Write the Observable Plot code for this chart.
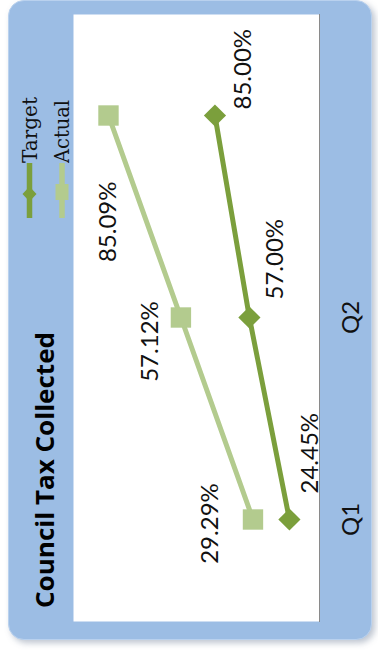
<!DOCTYPE html>
<html>
<head>
<meta charset="utf-8">
<script src="https://cdn.jsdelivr.net/npm/d3@7"></script>
<script src="https://cdn.jsdelivr.net/npm/@observablehq/plot@0.6"></script>
<style>
  html, body { margin: 0; padding: 0; background: #fff; width: 378px; height: 662px; overflow: hidden; }
  /* the card is laid out landscape and turned a quarter to stand upright */
  #card { position: absolute; left: 0; top: 0; width: 662px; height: 378px;
          transform-origin: 0 0; transform: translate(0, 662px) rotate(-90deg); }
  #panel { position: absolute; left: 22px; top: 8px; width: 640px; height: 364px;
           background: #9cbde4; border-radius: 16px; box-sizing: border-box;
           border: 1px solid #b9d1ee; box-shadow: -3px 3px 6px rgba(70, 90, 120, 0.35); }
  .layer { position: absolute; left: 0; top: 0; }
</style>
</head>
<body>
<div id="card"><div id="panel"></div></div>
<script>
// Council tax collection by quarter (percent of annual amount)
const categories = ["Q1", "Q2", ""];
const target = [24.45, 57.00, 85.00];
const actual = [29.29, 57.12, 85.09];
const seriesNames = ["Target", "Actual"];
const title = "Council Tax Collected";

const targetColor = "#7b9f3c";
const actualColor = "#b3cb8e";
const W = 662, H = 378;
const frame = { width: W, height: H, marginLeft: 40, marginRight: 15, marginTop: 73, marginBottom: 59 };
const labelFont = { fontFamily: "Lato, 'Open Sans', sans-serif", fontSize: 24, fill: "#111" };
const pct = d => d.v.toFixed(2) + "%";

const targetRows = categories.map((q, i) => ({ q, v: target[i] }));
const actualRows = categories.map((q, i) => ({ q, v: actual[i] }));

// hand-placed label nudges, one per quarter
const targetNudge = [{ dx: 26, dy: 21 }, { dx: 18, dy: 26 }, { dx: 6, dy: 28 }];
const actualNudge = [
  { dx: -4, dy: -43, anchor: "middle" },
  { dx: -24, dy: -31, anchor: "middle" },
  { dx: -66, dy: 0, anchor: "end" }
];

const xScale = { type: "point", domain: categories, padding: 0.5 };

// Primary axis: plot area, category axis and the Target series
const base = Plot.plot({
  ...frame,
  style: { background: "transparent", overflow: "visible" },
  x: { ...xScale, axis: null },
  y: { domain: [0, 200], axis: null },
  marks: [
    Plot.frame({ fill: "white", stroke: null }),
    Plot.frame({ anchor: "bottom", stroke: "#8a8a8a", strokeWidth: 1 }),
    Plot.axisX({ tickSize: 0, tickPadding: 22, fontSize: 24, label: null,
                 fontFamily: labelFont.fontFamily, fill: "#111", tickFormat: d => d }),
    Plot.line(targetRows, { x: "q", y: "v", stroke: targetColor, strokeWidth: 5, strokeLinejoin: "round" }),
    Plot.dot(targetRows, { x: "q", y: "v", symbol: "diamond2", r: 10, fill: targetColor, stroke: null }),
    ...targetRows.map((row, i) => Plot.text([row], {
      x: "q", y: "v", text: pct, textAnchor: "start",
      dx: targetNudge[i].dx, dy: targetNudge[i].dy, ...labelFont
    }))
  ]
});

// Secondary axis: the Actual series
const overlay = Plot.plot({
  ...frame,
  style: { background: "transparent", overflow: "visible" },
  x: { ...xScale, axis: null },
  y: { domain: [3.6, 98.6], axis: null },
  marks: [
    Plot.line(actualRows, { x: "q", y: "v", stroke: actualColor, strokeWidth: 5, strokeLinejoin: "round" }),
    Plot.dot(actualRows, { x: "q", y: "v", symbol: "square", r: 11.5, fill: actualColor, stroke: null }),
    ...actualRows.map((row, i) => Plot.text([row], {
      x: "q", y: "v", text: pct, textAnchor: actualNudge[i].anchor,
      dx: actualNudge[i].dx, dy: actualNudge[i].dy, ...labelFont
    }))
  ]
});

const card = document.getElementById("card");
for (const svg of [base, overlay]) {
  svg.classList.add("layer");
  card.appendChild(svg);
}

// Title and legend
const deco = d3.select(card).append("svg").attr("class", "layer")
  .attr("width", W).attr("height", H).style("overflow", "visible");

deco.append("text")
  .attr("x", 54).attr("y", 53.5)
  .attr("font-family", "'Open Sans', Lato, sans-serif")
  .attr("font-weight", "bold").attr("font-size", 25).attr("fill", "#000")
  .attr("textLength", 276).attr("lengthAdjust", "spacingAndGlyphs")
  .text(title);

const legendColors = [targetColor, actualColor];
const legendY = [29.5, 62];
const legendTextWidth = [66, 63];
seriesNames.forEach((name, i) => {
  const g = deco.append("g").attr("transform", `translate(0,${legendY[i]})`);
  g.append("line").attr("x1", 444).attr("x2", 499).attr("y1", 0).attr("y2", 0)
    .attr("stroke", legendColors[i]).attr("stroke-width", 5.5);
  if (i === 0) {
    g.append("path").attr("d", "M468,-7L475.5,0L468,7L460.5,0Z").attr("fill", legendColors[i]);
  } else {
    g.append("rect").attr("x", 462).attr("y", -6.5).attr("width", 16).attr("height", 13)
      .attr("fill", legendColors[i]);
  }
  g.append("text").attr("x", 499).attr("y", 0).attr("dy", "0.35em")
    .attr("font-family", "'DejaVu Serif', serif").attr("font-size", 20).attr("fill", "#111")
    .attr("textLength", legendTextWidth[i]).attr("lengthAdjust", "spacingAndGlyphs")
    .text(name);
});
</script>
</body>
</html>
